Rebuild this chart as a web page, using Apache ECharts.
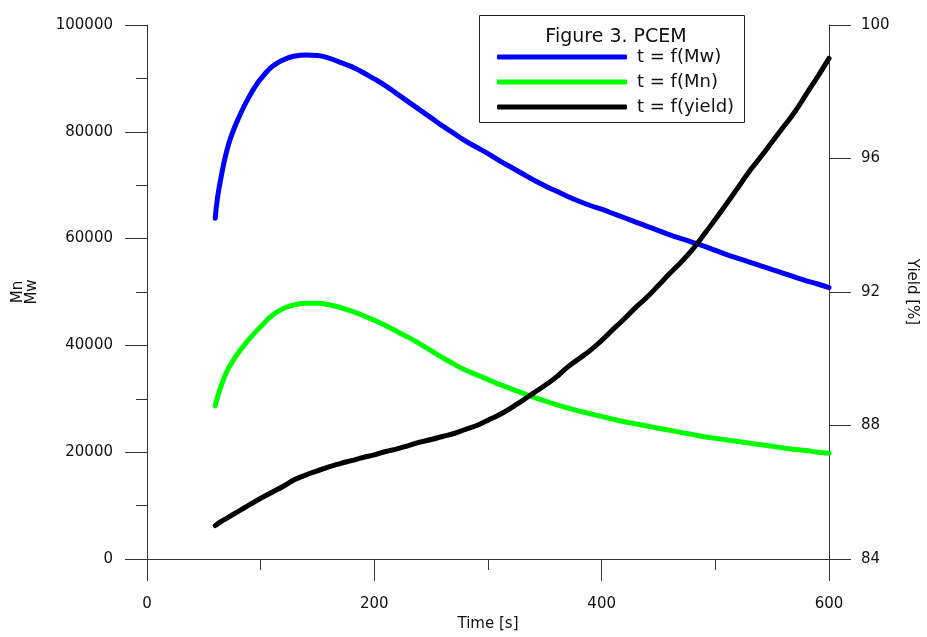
<!DOCTYPE html>
<html>
<head>
<meta charset="utf-8">
<script src="https://cdn.jsdelivr.net/npm/echarts@6/dist/echarts.min.js"></script>
<style>
  html, body { margin: 0; padding: 0; background: #fff; }
  #chart { width: 927px; height: 637px; }
</style>
</head>
<body>
<div id="chart"></div>
<script>
// time points [s]
const time = [60, 62, 65, 70, 75, 80, 85, 90, 95, 100,
  110, 120, 130, 140, 150, 160, 170, 180, 190, 200,
  210, 220, 230, 240, 250, 260, 270, 280, 290, 300,
  310, 320, 330, 340, 350, 360, 370, 380, 390, 400,
  410, 420, 430, 440, 450, 460, 470, 480, 490, 500,
  510, 520, 530, 540, 550, 560, 570, 580, 590, 600];

// Mw (left axis)
const mw = [63800, 67600, 71300, 76300, 79700, 82300, 84600, 86600, 88400, 89900,
  92200, 93500, 94200, 94400, 94300, 93800, 93000, 92200, 91100, 89900,
  88600, 87100, 85600, 84100, 82600, 81100, 79700, 78300, 77100, 75900,
  74600, 73400, 72200, 71000, 69900, 68900, 67900, 67000, 66200, 65500,
  64700, 63900, 63100, 62300, 61500, 60700, 60000, 59300, 58600, 57800,
  57000, 56300, 55600, 54900, 54200, 53500, 52800, 52100, 51500, 50800];

// Mn (left axis)
const mn = [28700, 30300, 32300, 35000, 36900, 38500, 39900, 41200, 42400, 43500,
  45600, 46900, 47600, 47900, 47900, 47600, 47100, 46400, 45600, 44700,
  43700, 42600, 41500, 40300, 39000, 37700, 36500, 35400, 34500, 33600,
  32700, 31900, 31100, 30300, 29600, 28900, 28300, 27700, 27200, 26700,
  26200, 25700, 25300, 24900, 24500, 24100, 23700, 23300, 22900, 22600,
  22300, 22000, 21700, 21400, 21100, 20800, 20500, 20300, 20000, 19800];

// yield [%] (right axis)
const yieldPct = [85.00, 85.05, 85.12, 85.22, 85.32, 85.42, 85.52, 85.62, 85.72, 85.82,
  86.00, 86.18, 86.38, 86.52, 86.64, 86.76, 86.86, 86.95, 87.04, 87.12,
  87.22, 87.30, 87.40, 87.50, 87.58, 87.67, 87.76, 87.88, 88.00, 88.16,
  88.32, 88.52, 88.74, 88.97, 89.20, 89.45, 89.75, 90.00, 90.25, 90.55,
  90.88, 91.20, 91.54, 91.85, 92.20, 92.56, 92.90, 93.28, 93.72, 94.18,
  94.65, 95.13, 95.62, 96.05, 96.50, 96.95, 97.40, 97.93, 98.45, 99.00];

const seriesNames = ['t = f(Mw)', 't = f(Mn)', 't = f(yield)'];

const font = 'DejaVu Sans';
const pairs = arr => time.map((t, i) => [t, arr[i]]);
const plain = v => String(v);

const chart = echarts.init(document.getElementById('chart'));

const axisLine = { show: true, lineStyle: { color: '#333', width: 1 } };

const option = {
  backgroundColor: '#fff',
  animation: false,
  title: {
    text: 'Figure 3. PCEM',
    left: 611,
    top: 23,
    textAlign: 'center',
    textStyle: { fontFamily: font, fontSize: 19, fontWeight: 'normal', color: '#111' }
  },
  legend: {
    data: seriesNames,
    orient: 'vertical',
    left: 492,
    top: 43,
    icon: 'roundRect',
    itemWidth: 130,
    itemHeight: 5,
    itemGap: 7,
    textStyle: { fontFamily: font, fontSize: 18, color: '#111', lineHeight: 18, padding: [0, 0, 0, 5] }
  },
  graphic: [{
    type: 'rect',
    shape: { x: 479.5, y: 15.5, width: 265, height: 107 },
    style: { fill: 'none', stroke: '#222', lineWidth: 1 },
    z: 10
  }],
  grid: { left: 147, right: 96, top: 25, bottom: 76, containLabel: false },
  xAxis: {
    type: 'value',
    min: 0,
    max: 600,
    interval: 200,
    name: 'Time [s]',
    nameLocation: 'middle',
    nameGap: 58,
    nameTextStyle: { fontFamily: font, fontSize: 15, color: '#111' },
    axisLine: axisLine,
    axisTick: { show: true, length: 22, lineStyle: { color: '#333' } },
    minorTick: { show: true, splitNumber: 2, length: 11, lineStyle: { color: '#333' } },
    axisLabel: { margin: 38, fontFamily: font, fontSize: 15, color: '#111', formatter: plain },
    splitLine: { show: false }
  },
  yAxis: [{
    type: 'value',
    position: 'left',
    min: 0,
    max: 100000,
    interval: 20000,
    name: 'Mn\nMw',
    nameLocation: 'middle',
    nameRotate: 90,
    nameGap: 108,
    nameTextStyle: { fontFamily: font, fontSize: 15, color: '#111', lineHeight: 14 },
    axisLine: axisLine,
    axisTick: { show: true, length: 22, lineStyle: { color: '#333' } },
    minorTick: { show: true, splitNumber: 2, length: 11, lineStyle: { color: '#333' } },
    axisLabel: { margin: 34, fontFamily: font, fontSize: 15, color: '#111', formatter: plain },
    splitLine: { show: false }
  }, {
    type: 'value',
    position: 'right',
    min: 84,
    max: 100,
    interval: 4,
    name: 'Yield [%]',
    nameLocation: 'middle',
    nameRotate: -90,
    nameGap: 75,
    nameTextStyle: { fontFamily: font, fontSize: 15, color: '#111' },
    axisLine: axisLine,
    axisTick: { show: true, length: 22, lineStyle: { color: '#333' } },
    axisLabel: { margin: 32, fontFamily: font, fontSize: 15, color: '#111', formatter: plain },
    splitLine: { show: false }
  }],
  series: [{
    name: seriesNames[0],
    type: 'line',
    data: pairs(mw),
    yAxisIndex: 0,
    showSymbol: false,
    smooth: true,
    lineStyle: { color: '#0000ff', width: 5, cap: 'round' },
    itemStyle: { color: '#0000ff' }
  }, {
    name: seriesNames[1],
    type: 'line',
    data: pairs(mn),
    yAxisIndex: 0,
    showSymbol: false,
    smooth: true,
    lineStyle: { color: '#00ff00', width: 5, cap: 'round' },
    itemStyle: { color: '#00ff00' }
  }, {
    name: seriesNames[2],
    type: 'line',
    data: pairs(yieldPct),
    yAxisIndex: 1,
    showSymbol: false,
    smooth: true,
    lineStyle: { color: '#000000', width: 5, cap: 'round' },
    itemStyle: { color: '#000000' }
  }]
};

chart.setOption(option);
</script>
</body>
</html>
